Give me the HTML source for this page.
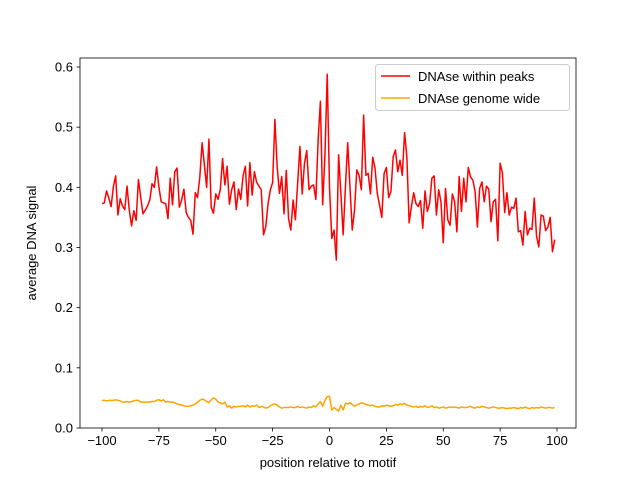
<!DOCTYPE html>
<html><head><meta charset="utf-8"><style>
body{margin:0;background:#fff}
svg{font-family:"Liberation Sans","DejaVu Sans",sans-serif;font-size:13px}
</style></head><body>
<svg id="c" width="640" height="480"></svg>
<script>
const xStart=-100;
const redValues=[0.373,0.374,0.394,0.382,0.368,0.401,0.419,0.354,0.381,0.369,0.363,0.402,0.362,0.336,0.361,0.345,0.413,0.384,0.356,0.362,0.369,0.379,0.406,0.400,0.434,0.401,0.376,0.374,0.373,0.348,0.415,0.371,0.426,0.432,0.367,0.379,0.397,0.358,0.350,0.345,0.322,0.391,0.383,0.417,0.474,0.437,0.400,0.480,0.367,0.357,
0.389,0.380,0.396,0.448,0.404,0.435,0.372,0.396,0.409,0.363,0.397,0.380,0.419,0.435,0.369,0.441,0.387,0.426,0.408,0.402,0.396,0.321,0.335,0.373,0.396,0.408,0.513,0.434,0.390,0.418,0.356,0.428,0.348,0.329,0.379,0.346,0.407,0.468,0.389,0.440,0.461,0.396,0.402,0.404,0.380,0.479,0.543,0.371,0.454,0.588,
0.400,0.315,0.329,0.279,0.454,0.390,0.321,0.400,0.474,0.400,0.329,0.362,0.429,0.420,0.396,0.520,0.420,0.423,0.389,0.450,0.432,0.390,0.370,0.350,0.423,0.433,0.383,0.393,0.451,0.462,0.426,0.445,0.420,0.491,0.451,0.341,0.368,0.391,0.373,0.368,0.378,0.332,0.394,0.360,0.373,0.415,0.419,0.354,0.396,0.376,0.308,0.398,
0.346,0.337,0.389,0.376,0.326,0.418,0.360,0.415,0.376,0.433,0.417,0.412,0.393,0.334,0.398,0.409,0.376,0.402,0.397,0.343,0.376,0.380,0.311,0.440,0.424,0.358,0.391,0.354,0.367,0.365,0.382,0.326,0.328,0.304,0.360,0.321,0.332,0.330,0.382,0.319,0.301,0.354,0.352,0.328,0.334,0.350,0.293,0.313];
const orangeValues=[0.046,0.046,0.045,0.046,0.046,0.046,0.047,0.046,0.045,
0.043,0.043,0.044,0.043,0.044,0.045,0.046,0.046,0.043,0.043,0.043,0.043,
0.043,0.044,0.044,0.046,0.047,0.045,0.047,0.043,0.044,0.043,
0.043,0.042,0.040,0.039,0.038,0.037,0.036,0.036,0.037,0.038,
0.040,0.043,0.046,0.048,0.047,0.044,0.042,0.047,0.050,0.048,
0.043,0.042,0.040,0.043,0.035,0.037,0.033,0.036,0.035,0.036,
0.036,0.037,0.035,0.038,0.035,0.037,0.036,0.038,0.034,0.036,
0.035,0.033,0.034,0.037,0.039,0.040,0.038,0.035,0.033,0.034,
0.034,0.034,0.035,0.034,0.034,0.036,0.034,0.035,0.034,0.033,
0.035,0.034,0.037,0.035,0.040,0.044,0.036,0.046,0.052,
0.053,0.030,0.034,0.031,0.028,0.038,0.030,0.041,0.040,0.042,
0.039,0.036,0.038,0.040,0.042,0.041,0.039,0.038,0.037,0.038,
0.036,0.035,0.035,0.037,0.036,0.038,0.037,0.036,0.037,0.039,
0.038,0.040,0.039,0.041,0.038,0.037,0.036,0.035,0.036,0.034,
0.036,0.035,0.037,0.034,0.035,0.037,0.034,0.035,0.033,0.034,
0.035,0.033,0.034,0.035,0.034,0.035,0.034,0.033,0.035,0.034,
0.034,0.035,0.036,0.034,0.033,0.035,0.034,0.036,0.035,0.034,
0.033,0.034,0.035,0.034,0.033,0.033,0.034,0.033,0.032,0.033,
0.033,0.034,0.033,0.032,0.034,0.033,0.035,0.033,0.032,0.034,
0.033,0.034,0.033,0.035,0.034,0.033,0.034,0.034,0.033,0.034];
const xTicks=[-100,-75,-50,-25,0,25,50,75,100];
const yTicks=[0.0,0.1,0.2,0.3,0.4,0.5,0.6];
const yTickLabels=["0.0","0.1","0.2","0.3","0.4","0.5","0.6"];

const NS="http://www.w3.org/2000/svg";
const svg=document.getElementById('c');
const L=80,R=576,T=58,B=428;
const xs=v=>102+(v+100)*(455/200);
const ys=v=>B-v*601.7;
function mk(tag,attrs,parent){const e=document.createElementNS(NS,tag);for(const k in attrs)e.setAttribute(k,attrs[k]);(parent||svg).appendChild(e);return e;}

function series(vals,color,name){
  const d=vals.map((v,i)=>(i?'L':'M')+xs(xStart+i).toFixed(2)+' '+ys(v).toFixed(2)).join(' ');
  const p=mk('path',{d:d,fill:'none',stroke:color,'stroke-width':1.5,'stroke-linejoin':'round'});
  
  
}
series(redValues,'#ff0000','series-dnase-within-peaks');
series(orangeValues,'#ffa500','series-dnase-genome-wide');

const frame=mk('rect',{x:L,y:T,width:R-L,height:B-T,fill:'none',stroke:'#000','stroke-width':0.8});



xTicks.forEach(t=>{
  const x=xs(t);
  mk('line',{x1:x,x2:x,y1:B,y2:B+3.5,stroke:'#000','stroke-width':0.8});
  const tx=mk('text',{x:x,y:B+17,'text-anchor':'middle'});
  tx.textContent=t<0?'\u2212'+Math.abs(t):String(t);
  
  
});
yTicks.forEach((t,i)=>{
  const y=ys(t);
  mk('line',{x1:L-3.5,x2:L,y1:y,y2:y,stroke:'#000','stroke-width':0.8});
  const tx=mk('text',{x:L-7,y:y+4.5,'text-anchor':'end'});
  tx.textContent=yTickLabels[i];
  
  
});
const xt=mk('text',{x:(L+R)/2,y:467,'text-anchor':'middle'});
xt.textContent='position relative to motif';


const yt=mk('text',{x:0,y:0,'text-anchor':'middle',transform:'translate(36,243) rotate(-90)'});
yt.textContent='average DNA signal';



const lg=mk('g',{});


mk('rect',{x:375.5,y:64.5,width:194,height:46,rx:3,fill:'#fff','fill-opacity':0.8,stroke:'#ccc','stroke-width':1},lg);
[['DNAse within peaks','#ff0000',76],['DNAse genome wide','#ffa500',98]].forEach(([lab,c,y])=>{
  const g=mk('g',{},lg);
  
  
  mk('line',{x1:381,x2:410,y1:y,y2:y,stroke:c,'stroke-width':1.5},g);
  const t=mk('text',{x:418,y:y+5},g);
  t.textContent=lab;
});
</script>
</body></html>
